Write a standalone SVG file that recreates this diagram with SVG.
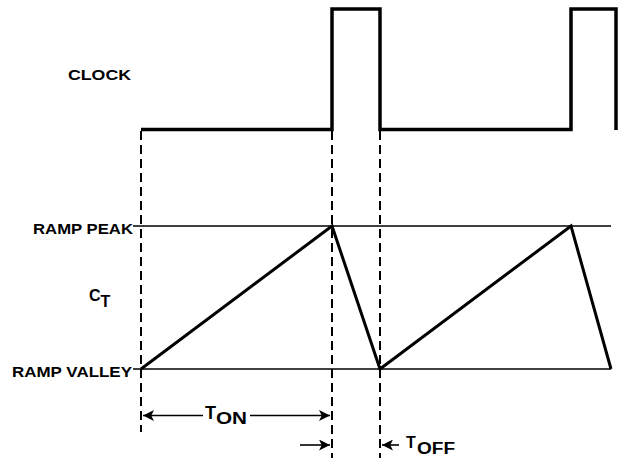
<svg xmlns="http://www.w3.org/2000/svg" width="631" height="461" viewBox="0 0 631 461">
<defs>
<marker id="ah" viewBox="0 0 10 10" refX="10" refY="5" markerWidth="17" markerHeight="11" markerUnits="userSpaceOnUse" orient="auto"><path d="M0,0 L10,5 L0,10 L2.5,5 Z" fill="#000"/></marker>
<style>
.lbl{font-family:"Liberation Sans",Arial,sans-serif;font-weight:bold;fill:#000}
.clk{fill:none;stroke:#000;stroke-width:3.5}
.ramp{fill:none;stroke:#000;stroke-width:3;stroke-linejoin:miter}
.lvl{stroke:#000;stroke-width:1.6}
.dash{stroke:#000;stroke-width:2;stroke-dasharray:9,5}
.arr{stroke:#000;stroke-width:1.6;marker-end:url(#ah)}
</style>
</defs>
<rect width="631" height="461" fill="#fff"/>
<g id="labels">
<text class="lbl" x="68" y="80" font-size="14" textLength="63" lengthAdjust="spacingAndGlyphs">CLOCK</text>
<text class="lbl" x="33" y="234" font-size="15.5" textLength="100" lengthAdjust="spacingAndGlyphs">RAMP PEAK</text>
<text class="lbl" x="12" y="377" font-size="15.5" textLength="120" lengthAdjust="spacingAndGlyphs">RAMP VALLEY</text>
<text class="lbl" x="89" y="301" font-size="16">C</text>
<text class="lbl" x="100.5" y="307" font-size="16">T</text>
</g>
<g id="levels">
<line class="lvl" x1="133" y1="226" x2="611" y2="226"/>
<line class="lvl" x1="133" y1="369" x2="611" y2="369"/>
</g>
<g id="clock">
<polyline class="clk" points="141,129.5 332,129.5 332,9 380,9 380,129.5 571,129.5 571,9 616,9 616,130"/>
</g>
<g id="ramp">
<polyline class="ramp" points="141,369 332,226 380,369 571,226 611,369"/>
</g>
<g id="connectors">
<line class="dash" x1="141" y1="131" x2="141" y2="432"/>
<line class="dash" x1="332" y1="131" x2="332" y2="458"/>
<line class="dash" x1="380" y1="131" x2="380" y2="458"/>
<line class="arr" x1="203" y1="415.5" x2="143" y2="415.5"/>
<line class="arr" x1="250" y1="415.5" x2="330" y2="415.5"/>
<line class="arr" x1="300" y1="445" x2="330" y2="445"/>
<line class="arr" x1="399" y1="445" x2="382" y2="445"/>
</g>
<g id="timing-labels">
<text class="lbl" x="205" y="418.5" font-size="18">T</text>
<text class="lbl" x="216" y="423.5" font-size="16" textLength="31" lengthAdjust="spacingAndGlyphs">ON</text>
<text class="lbl" x="406" y="447.5" font-size="16">T</text>
<text class="lbl" x="417" y="453.5" font-size="16" textLength="38" lengthAdjust="spacingAndGlyphs">OFF</text>
</g>
</svg>
